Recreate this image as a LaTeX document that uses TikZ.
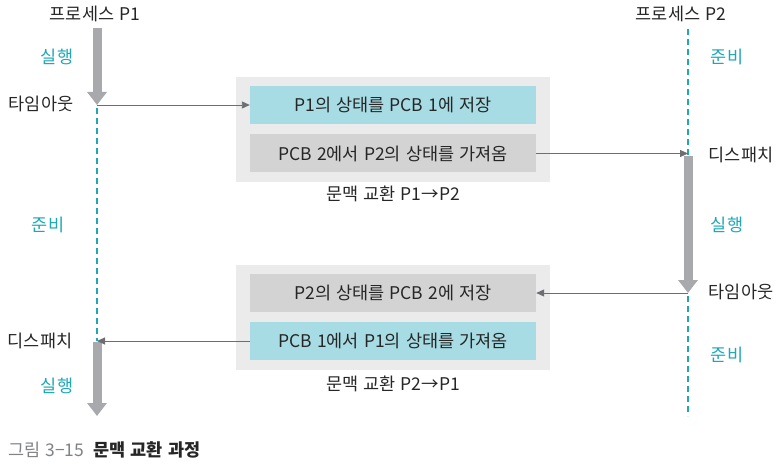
\documentclass[tikz,border=0pt]{standalone}
\usepackage{fontspec}
\setmainfont{Noto Sans CJK KR}[WordSpace=1.3]
\usetikzlibrary{arrows.meta}
\definecolor{tealtxt}{HTML}{1FA7B8}
\definecolor{thickgray}{HTML}{A7A9AC}
\definecolor{boxteal}{HTML}{A8DCE4}
\definecolor{boxgray}{HTML}{D3D3D4}
\definecolor{outergray}{HTML}{EBEBEB}
\definecolor{linegray}{HTML}{6D6E71}
\definecolor{captiongray}{HTML}{808285}
\tikzset{
  lbl/.style={font=\fontsize{17.5}{19}\selectfont, inner sep=0pt, text=black!85},
  runlbl/.style={lbl, text=tealtxt},
  thickarrow/.style={draw=thickgray, line width=9pt, -{Triangle[width=19pt,length=13pt]}},
  readyline/.style={draw=tealtxt, line width=2.3pt, dash pattern=on 6pt off 4pt},
  outerbox/.style={fill=outergray, draw=none},
  innerbox/.style={lbl, minimum width=286pt, minimum height=38pt, draw=none},
  conn/.style={draw=linegray, line width=0.9pt, -{Triangle[width=7pt,length=8pt]}},
}
\begin{document}
\begin{tikzpicture}[x=1pt,y=-1pt]
\useasboundingbox (0,0) rectangle (778,470);
% outer boxes
\fill[outerbox] (236,77) rectangle (550,182);
\fill[outerbox] (236,265) rectangle (550,370);
% inner boxes
\node[innerbox, fill=boxteal] (a1) at (393,105) {P1의 상태를 PCB 1에 저장};
\node[innerbox, fill=boxgray] (a2) at (393,153.5) {PCB 2에서 P2의 상태를 가져옴};
\node[lbl] (la) at (393,194) {문맥 교환 P1→P2};
\node[innerbox, fill=boxgray] (b1) at (393,293) {P2의 상태를 PCB 2에 저장};
\node[innerbox, fill=boxteal] (b2) at (393,341) {PCB 1에서 P1의 상태를 가져옴};
\node[lbl] (lb) at (393,384) {문맥 교환 P2→P1};
% P1 column
\node[lbl] (p1) at (95,14) {프로세스 P1};
\coordinate (p1a) at (97,28);
\coordinate (p1b) at (97,105);
\coordinate (p1c) at (97,341);
\coordinate (p1d) at (97,416);
\node[runlbl] at (57,57) {실행};
\node[lbl] at (41,104) {타임아웃};
\node[runlbl] at (48,225) {준비};
\node[lbl] at (40,341) {디스패치};
\node[runlbl] at (57,386) {실행};
\draw[readyline] ([yshift=-3pt]p1b) -- (p1c);
\draw[thickarrow] (p1a) -- (p1b);
\draw[thickarrow] ([yshift=-1pt]p1c) -- (p1d);
% P2 column
\node[lbl] (p2) at (681,14) {프로세스 P2};
\coordinate (p2a) at (688,29);
\coordinate (p2b) at (688,155);
\coordinate (p2c) at (688,293);
\coordinate (p2d) at (688,416);
\node[runlbl] at (727,57) {준비};
\node[lbl] at (741,155) {디스패치};
\node[runlbl] at (727,225) {실행};
\node[lbl] at (741,292) {타임아웃};
\node[runlbl] at (727,355) {준비};
\draw[readyline] (p2a) -- (p2b);
\draw[readyline] ([yshift=-3pt]p2c) -- (p2d);
\draw[thickarrow] ([yshift=-1pt]p2b) -- (p2c);
% connectors
\draw[conn] (p1b) -- (a1.west);
\draw[conn] (a2.east) -- (a2.east -| p2b);
\draw[conn] (b1.east -| p2c) -- (b1.east);
\draw[conn] (b2.west) -- (b2.west -| p1c);
% caption
\node[lbl, anchor=west, font=\fontsize{17.5}{19}\selectfont] (cap) at (8,450) {\textcolor{captiongray}{그림 3−15}\hspace{9pt}\textbf{문맥 교환 과정}};
\end{tikzpicture}
\end{document}
